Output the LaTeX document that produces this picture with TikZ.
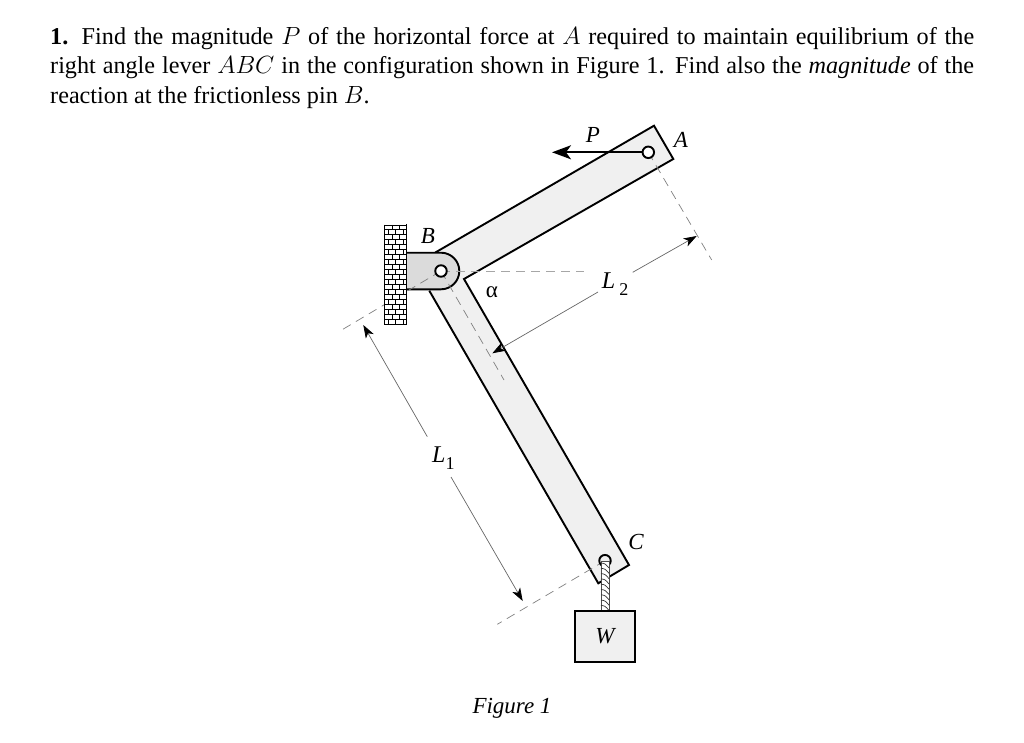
\documentclass[tikz,border=0pt]{standalone}
\usepackage{fontspec}
\setmainfont{Liberation Serif}
\usetikzlibrary{arrows.meta,calc}
\definecolor{leverfill}{gray}{.94}
\definecolor{bracketfill}{gray}{.86}
\newcommand{\subnum}[1]{\raisebox{-7pt}{\fontsize{18}{18}\selectfont\upshape #1}}
\tikzset{
    part/.style = {draw, line width=1.9pt, line join=miter},
    pin/.style = {draw, circle, line width=1.9pt, fill=white, inner sep=0pt, minimum size=11.5pt},
    dashline/.style = {draw=black!50, line width=.7pt, dash pattern=on 9pt off 6pt},
    dimline/.style = {draw=black!60, line width=.7pt},
    dimtip/.style = {{Stealth[black,length=13pt,width=9pt,inset=3.5pt]}-},
    lbl/.style = {inner sep=0pt, font=\fontsize{23}{23}\selectfont\itshape}
}
\begin{document}
\begin{tikzpicture}[x=1pt,y=-1pt]
    \useasboundingbox (0,0) rectangle (1024,743);
    \node[anchor=north west,inner sep=0pt,text width=924pt,align=justify,
        font=\fontsize{24.2}{29.6}\selectfont] (question) at (50,27)
        {\textbf{1.} Find the magnitude $P$ of the horizontal force at $A$ required to maintain equilibrium of the
        right angle lever $ABC$ in the configuration shown in Figure 1. Find also the \textit{magnitude} of the
        reaction at the frictionless pin $B$.};

    % lever outline
    \coordinate (a1) at (654,125.7);
    \coordinate (a2) at (673.3,159);
    \coordinate (knee) at (464,279);
    \coordinate (c1) at (629,565);
    \coordinate (c2) at (598.3,583.3);
    \coordinate (b1) at (429.3,290.7);
    \coordinate (b2) at (435,252.7);
    \draw[part,fill=leverfill] (b2) -- (a1) -- (a2) -- (knee) -- (c1) -- (c2) -- (b1);

    % dashed lines
    \coordinate (pinb) at (441,271);
    \coordinate (pina) at (648.3,152.3);
    \coordinate (pinc) at (605,560.7);
    \coordinate (dh) at (584,271);
    \coordinate (da) at (711.7,260);
    \coordinate (db) at (504,380);
    \coordinate (dc) at (497.3,624.3);
    \coordinate (dw) at (340,331);

    % bracket
    \draw[part,fill=bracketfill] (406.7,252.7) -- (441,252.7) arc[start angle=-90,end angle=90,radius=18.3] -- (406.7,289.3);

    \draw[dashline,draw=black!35,line width=1pt] (pinb) -- (dh);
    \draw[dashline] (pina) -- (da);
    \draw[dashline] (pinb) -- (db);
    \draw[dashline] (pinc) -- (dc);
    \draw[dashline] (pinb) -- (dw);

    % wall
    \fill[white] (384.5,225) rectangle (406.7,324);
    \draw[line width=.8pt] (384.5,225) -- (384.5,324) -- (406.7,324);
    \draw[line width=1.4pt] (406.7,224) -- (406.7,324);
    \foreach \k in {0,...,19} {
        \draw[line width=.9pt] (384.5,225+4.95*\k) -- (406.7,225+4.95*\k);
        \pgfmathsetmacro{\off}{mod(\k,2)*3.7}
        \foreach \j in {0,1,2}
            \draw[line width=.6pt] ({min(384.5+\off+7.4*\j,406.7)},225+4.95*\k) -- ++(0,4.95);
    }

    % pins
    \node[pin] (pinB) at (pinb) {};
    \node[pin] (pinA) at (pina) {};
    \node[pin,fill=leverfill] (pinC) at (pinc) {};

    % rope
    \draw[line width=.6pt,draw=black!70,fill=white] (601,561) rectangle (609,610.7);
    \foreach \k in {0,...,8}
        \draw[line width=.7pt,black!80] (601,563+5.3*\k) .. controls (605,563.5+5.3*\k) .. (609,568+5.3*\k);

    % load
    \node[part,fill=leverfill,minimum width=60pt,minimum height=51.6pt,inner sep=0pt,
        lbl] (load) at (605,636.5) {W};

    % force
    \coordinate (ptip) at (552,152.3);
    \draw[line width=1.9pt,-{Stealth[length=19pt,width=14pt,inset=5pt]}] (pinA) -- (ptip);

    % dimensions
    \node[lbl,anchor=base west,font=\fontsize{24}{24}\selectfont\itshape] (lone) at (432,462) {L\subnum{1}};
    \node[lbl,anchor=base west,font=\fontsize{24}{24}\selectfont\itshape] (ltwo) at (601.7,288) {L\,\subnum{2}};
    \coordinate (lonea) at (363.3,325);
    \coordinate (loneb) at (522.7,601);
    \coordinate (ltwoa) at (696.7,236);
    \coordinate (ltwob) at (492.3,353.3);
    \draw[dimline,dimtip] (lonea) -- (427.3,436.7);
    \draw[dimline,dimtip] (loneb) -- (451,477);
    \draw[dimline,dimtip] (ltwoa) -- (632.7,272.3);
    \draw[dimline,dimtip] (ltwob) -- (598,292);

    % labels
    \node[lbl] (labA) at (681,140) {A};
    \node[lbl] (labB) at (428,236) {B};
    \node[lbl] (labC) at (636,542) {C};
    \node[lbl] (labP) at (593,135) {P};
    \node[lbl,font=\fontsize{23}{23}\selectfont] (laba) at (492,292) {α};
    \node[lbl] (caption) at (512,708) {Figure 1};
\end{tikzpicture}
\end{document}
